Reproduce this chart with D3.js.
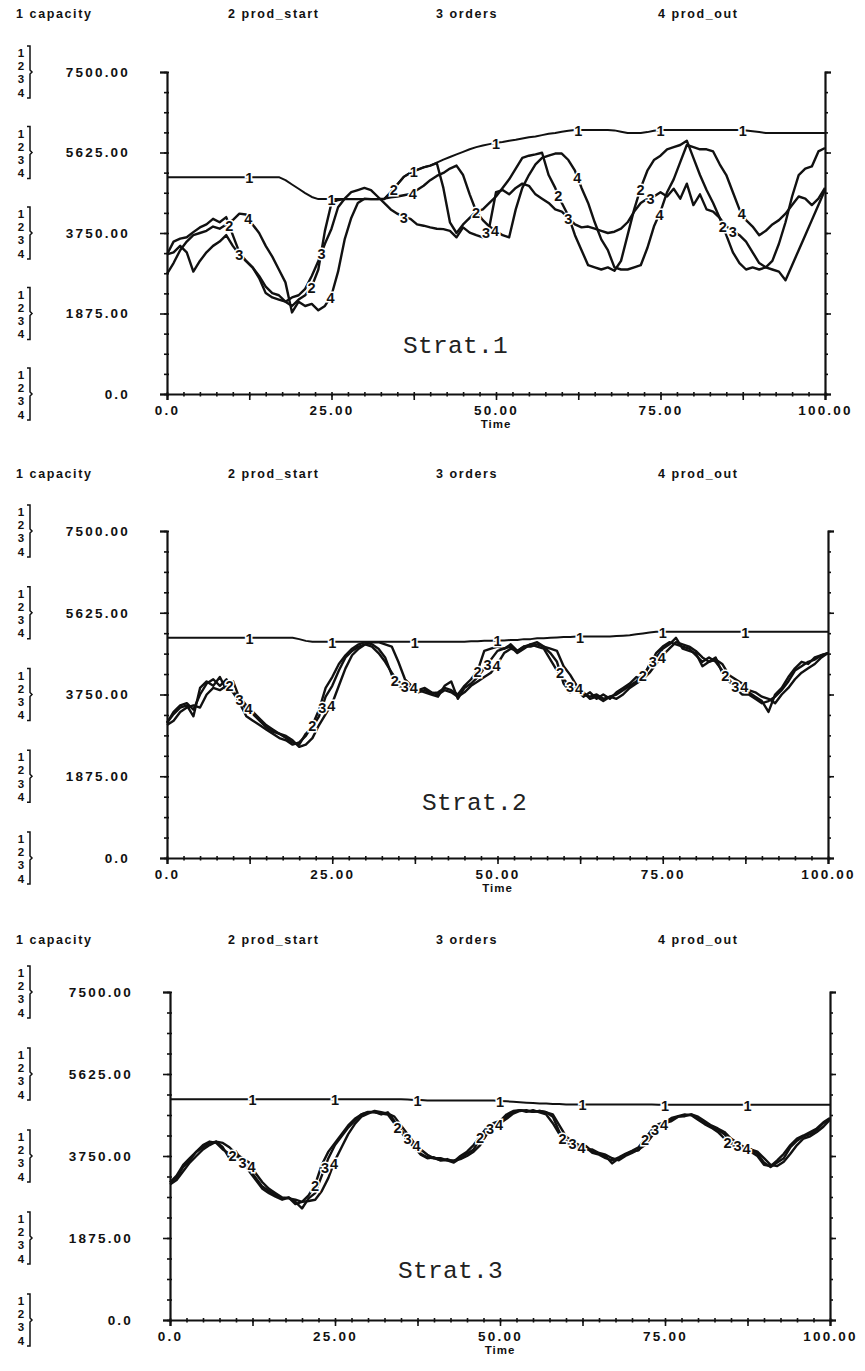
<!DOCTYPE html>
<html><head><meta charset="utf-8">
<script src="https://cdn.jsdelivr.net/npm/d3@7"></script>
<style>
body{margin:0;background:#fff;}
svg{display:block;background:#fff;}
</style></head><body>
<svg id="chart" width="865" height="1371"></svg>
<script>
// ---------------- DATA ----------------
const timeSteps = d3.range(0, 101);               // simulation time 0..100
const seriesNames = ["capacity", "prod_start", "orders", "prod_out"];
const seriesNumbers = ["1", "2", "3", "4"];
const yTickValues = [0, 1875, 3750, 5625, 7500];
const yTickLabels = ["0.0", "1875.00", "3750.00", "5625.00", "7500.00"];
const xTickValues = [0, 12.5, 25, 37.5, 50, 62.5, 75, 87.5, 100];
const xTickLabels = ["0.0", "", "25.00", "", "50.00", "", "75.00", "", "100.00"];
const stratTitles = ["Strat.1", "Strat.2", "Strat.3"];
const labelTimes = [12.5, 25, 37.5, 50, 62.5, 75, 87.5];

// ---- Strat.1 ----
const capacity1 = [
5050,5050,5050,5050,5050,5050,5050,5050,5050,5050,
5050,5050,5050,5050,5050,5050,5050,5050,4980,4880,
4780,4680,4590,4540,4540,4540,4540,4540,4540,4540,
4540,4540,4540,4540,4700,4880,5060,5160,5220,5280,
5320,5390,5460,5520,5580,5640,5700,5750,5790,5820,
5850,5870,5900,5920,5950,5980,6000,6030,6060,6080,
6110,6130,6150,6150,6150,6150,6150,6150,6140,6110,
6080,6080,6080,6100,6130,6150,6150,6150,6150,6150,
6150,6150,6150,6150,6150,6150,6150,6150,6140,6120,
6100,6080,6080,6080,6080,6080,6080,6080,6080,6080,
6080];
const prodStart1 = [
3250,3550,3620,3650,3770,3880,3950,4080,4000,4120,
3700,3300,3100,2950,2700,2350,2250,2200,2150,2050,
2200,2300,2500,2900,3800,4450,4520,4540,4540,4540,
4540,4540,4540,4540,4700,4880,5060,5150,5220,5280,
5320,5380,4800,4000,3750,3950,4100,4250,4300,4450,
4600,4800,5000,5250,5500,5550,5580,5620,5100,4800,
4450,4150,3700,3350,3000,2950,2900,2950,2870,3100,
3700,4300,4800,5200,5450,5550,5700,5750,5800,5900,
5500,5100,4750,4450,4100,3700,3300,3050,2900,2950,
2900,2950,3100,3500,4000,4600,5100,5250,5300,5650,
5730];
const orders1 = [
3250,3300,3450,3300,2850,3100,3300,3450,3550,3700,
3450,3250,3100,2950,2750,2500,2350,2300,2150,2250,
2300,2450,2750,3100,3500,3850,4350,4550,4700,4750,
4800,4750,4600,4450,4300,4200,4120,4080,3950,3920,
3880,3850,3840,3800,3650,3880,3760,3700,3650,3900,
4700,4750,4650,4800,4900,4850,4650,4550,4450,4300,
4250,4100,3950,3880,3900,3850,3800,3750,3780,3850,
4000,4250,4450,4550,4600,4700,4600,4780,4550,4900,
4400,4650,4300,4250,4100,3900,3800,3700,3550,3300,
3050,2950,2900,2850,2650,3000,3350,3700,4050,4400,
4750];
const prodOut1 = [
2800,3050,3350,3550,3700,3750,3800,3900,3850,3950,
4050,4200,4180,3950,3750,3450,3200,2900,2600,1900,
2150,2050,2100,1950,2050,2300,2850,3600,4100,4450,
4550,4540,4540,4550,4580,4600,4630,4660,4750,4850,
4980,5080,5150,5250,5320,5100,4650,4250,4050,3900,
3800,3700,3650,4300,4800,5100,5350,5500,5550,5600,
5600,5450,5200,4800,4450,4000,3600,3350,2950,2900,
2900,2950,3000,3400,3900,4250,4700,5000,5400,5800,
5750,5700,5700,5650,5350,5100,4700,4300,4050,3900,
3700,3800,3950,4050,4200,4400,4600,4550,4400,4550,
4800];

// ---- Strat.2 ----
const capacity2 = [
5050,5050,5050,5050,5050,5050,5050,5050,5050,5050,
5050,5050,5050,5050,5050,5050,5050,5050,5050,5050,
5020,4980,4960,4960,4960,4960,4960,4960,4960,4960,
4960,4960,4960,4960,4960,4960,4960,4960,4960,4960,
4960,4960,4960,4960,4960,4960,4970,4970,4980,4980,
4990,4990,5000,5000,5020,5020,5040,5040,5050,5060,
5070,5070,5080,5080,5080,5080,5080,5080,5090,5100,
5110,5130,5150,5170,5190,5190,5190,5190,5190,5190,
5190,5190,5190,5190,5190,5190,5190,5190,5190,5190,
5190,5190,5190,5190,5190,5190,5190,5190,5190,5190,
5190];
const prodStart2 = [
3100,3350,3500,3550,3400,3750,4000,4100,3950,4100,
3800,3550,3250,3150,3050,2950,2850,2750,2700,2600,
2650,2800,3050,3400,3900,4150,4450,4650,4800,4900,
4950,4900,4800,4600,4200,3950,3850,3900,3800,3850,
3780,3800,3900,3850,3750,3950,4100,4300,4750,4800,
4850,4800,4900,4750,4850,4900,4950,4850,4700,4500,
4000,3800,3900,3750,3700,3750,3650,3700,3750,3850,
3950,4050,4200,4400,4700,4850,4950,4900,4850,4800,
4650,4500,4600,4500,4300,4100,3900,3750,3750,3650,
3550,3600,3700,3850,4050,4300,4400,4500,4550,4650,
4700];
const orders2 = [
3100,3300,3450,3500,3250,3900,4050,3950,4150,3850,
4050,3650,3400,3300,3150,3000,2900,2850,2750,2650,
2600,2850,3000,3250,3700,3950,4300,4600,4750,4850,
4900,4850,4700,4500,4250,4050,3950,3900,3850,3800,
3750,3700,3950,4050,3650,3900,4000,4150,4350,4550,
4750,4800,4850,4700,4800,4900,4850,4800,4550,4300,
4100,3950,3850,3700,3800,3650,3750,3650,3800,3900,
4000,4150,4100,4450,4600,4800,4900,5050,4800,4750,
4700,4400,4500,4600,4250,4050,3950,3850,3800,3700,
3600,3350,3750,3900,4150,4350,4500,4450,4600,4650,
4700];
const prodOut2 = [
3050,3150,3350,3450,3500,3450,3750,3900,3850,3950,
3800,3700,3500,3350,3200,3050,2950,2850,2800,2700,
2550,2600,2750,3050,3300,3550,3950,4350,4650,4800,
4900,4950,4950,4900,4850,4500,4100,3950,3850,3900,
3800,3750,3850,3800,3700,3800,3950,4050,4150,4250,
4450,4700,4800,4750,4850,4850,4900,4850,4800,4750,
4400,4200,3950,3800,3650,3700,3600,3700,3650,3750,
3900,4000,4100,4250,4450,4650,4800,4950,4900,4850,
4750,4600,4500,4550,4450,4200,4100,4000,3850,3800,
3700,3650,3550,3750,3900,4100,4250,4350,4450,4600,
4700];

// ---- Strat.3 ----
const capacity3 = [
5050,5050,5050,5050,5050,5050,5050,5050,5050,5050,
5050,5050,5050,5050,5050,5050,5050,5050,5050,5050,
5050,5050,5050,5050,5050,5050,5050,5050,5050,5050,
5050,5050,5050,5050,5050,5050,5040,5030,5030,5020,
5020,5020,5020,5020,5020,5020,5020,5020,5020,5020,
5010,5000,4990,4980,4970,4960,4950,4950,4940,4940,
4930,4930,4930,4930,4930,4930,4930,4930,4930,4930,
4930,4930,4930,4930,4920,4920,4920,4920,4920,4920,
4920,4920,4920,4920,4920,4920,4920,4920,4920,4920,
4920,4920,4920,4920,4920,4920,4920,4920,4920,4920,
4920];
const prodStart3 = [
3150,3300,3550,3700,3850,4000,4080,4050,3900,3800,
3750,3650,3400,3200,3000,2900,2820,2750,2800,2650,
2700,2850,3100,3550,3850,4050,4250,4450,4600,4700,
4760,4750,4720,4700,4500,4300,4100,3950,3780,3700,
3720,3650,3680,3620,3750,3850,4000,4200,4400,4500,
4550,4700,4780,4800,4760,4800,4750,4700,4500,4250,
4050,4000,3900,3950,3820,3780,3700,3650,3720,3800,
3870,3950,4150,4350,4480,4520,4620,4660,4700,4680,
4580,4480,4400,4300,4150,4000,3950,3920,3850,3750,
3550,3520,3650,3800,4000,4150,4220,4300,4380,4520,
4620];
const orders3 = [
3150,3250,3500,3650,3850,3950,4050,4080,3950,3700,
3850,3600,3450,3250,3050,2950,2850,2780,2800,2700,
2550,2780,2900,3300,3700,4000,4200,4400,4550,4700,
4750,4760,4700,4750,4550,4350,4150,4000,3800,3720,
3700,3650,3650,3600,3700,3800,3900,4150,4350,4450,
4500,4650,4750,4800,4780,4760,4780,4750,4650,4300,
4100,4050,3950,3980,3850,3800,3750,3580,3700,3780,
3850,3880,4100,4300,4450,4500,4600,4650,4680,4700,
4600,4500,4420,4350,4250,4050,4000,3950,3900,3800,
3600,3500,3600,3700,3950,4100,4200,4250,4350,4500,
4600];
const prodOut3 = [
3100,3200,3400,3600,3750,3900,4000,4080,4050,3950,
3800,3700,3600,3350,3150,3000,2900,2800,2780,2750,
2700,2720,2750,2950,3250,3650,3950,4250,4480,4650,
4720,4780,4750,4720,4650,4450,4250,4050,3900,3780,
3700,3700,3650,3650,3680,3750,3850,4000,4250,4400,
4500,4600,4720,4780,4800,4760,4780,4750,4700,4450,
4200,4080,4000,3900,3900,3820,3780,3700,3650,3750,
3820,3900,4000,4200,4400,4500,4550,4650,4660,4700,
4650,4550,4450,4380,4300,4150,4050,3950,3900,3850,
3700,3550,3520,3620,3800,4000,4150,4200,4300,4420,
4580];

const panelSeries = [
  [capacity1, prodStart1, orders1, prodOut1],
  [capacity2, prodStart2, orders2, prodOut2],
  [capacity3, prodStart3, orders3, prodOut3]
];

// ---------------- LAYOUT ----------------
const panels = [
  {left:167, right:825, top:72,  bottom:394,  header:14,  stratX:403, stratY:353},
  {left:167, right:828, top:531, bottom:858,  header:474, stratX:422, stratY:810},
  {left:170, right:830, top:992, bottom:1320, header:940, stratX:398, stratY:1278}
];
const headerX = [16, 228, 436, 658];
const labelDx = [0, -20, -10, -1];
const SANS = "'Liberation Sans', Arial, sans-serif";
const MONO = "'Liberation Mono', 'Courier New', monospace";

const svg = d3.select("#chart");

panels.forEach((p, pi) => {
  const g = svg.append("g");
  const x = d3.scaleLinear().domain([0, 100]).range([p.left, p.right]);
  const y = d3.scaleLinear().domain([0, 7500]).range([p.bottom, p.top]);

  // header legend
  seriesNames.forEach((n, i) => {
    g.append("text").attr("x", headerX[i]).attr("y", p.header + 4)
      .attr("font-family", SANS).attr("font-weight", "bold").attr("font-size", 12.5)
      .attr("letter-spacing", 1.6).attr("fill", "#111")
      .text(seriesNumbers[i] + " " + n);
  });

  // stacked "1 2 3 4 }" markers beside each y tick
  yTickValues.forEach(v => {
    const cy = y(v);
    const st = g.append("g").attr("transform", `translate(0,${cy})`);
    [1, 2, 3, 4].forEach((d, k) => {
      st.append("text").attr("x", 21).attr("y", -19 + k * 13.2)
        .attr("text-anchor", "middle").attr("dominant-baseline", "central")
        .attr("font-family", SANS).attr("font-weight", "bold").attr("font-size", 11.5)
        .attr("fill", "#111").text(d);
    });
    st.append("path")
      .attr("d", "M27,-26 H30 V-2 L32,0 L30,2 V26 H27")
      .attr("fill", "none").attr("stroke", "#111").attr("stroke-width", 1.5);
  });

  // left axis: major ticks + labels
  g.append("g").attr("transform", `translate(${p.left},0)`)
    .call(d3.axisLeft(y).tickValues(yTickValues).tickSize(7).tickPadding(30)
      .tickFormat((d, i) => yTickLabels[i]));
  // left axis minor ticks (crossing)
  const minorY = d3.range(0, 7500.1, 468.75);
  g.append("g").attr("transform", `translate(${p.left},0)`)
    .call(d3.axisLeft(y).tickValues(minorY).tickSize(3).tickFormat(""))
    .call(a => a.select(".domain").remove());
  g.append("g").attr("transform", `translate(${p.left},0)`)
    .call(d3.axisRight(y).tickValues(minorY).tickSize(2).tickFormat(""))
    .call(a => a.select(".domain").remove());

  // right axis
  g.append("g").attr("transform", `translate(${p.right},0)`)
    .call(d3.axisRight(y).tickValues(yTickValues).tickSize(6).tickFormat(""));
  g.append("g").attr("transform", `translate(${p.right},0)`)
    .call(d3.axisRight(y).tickValues(minorY).tickSize(3).tickFormat(""))
    .call(a => a.select(".domain").remove());

  // bottom axis
  g.append("g").attr("transform", `translate(0,${p.bottom})`)
    .call(d3.axisBottom(x).tickValues(xTickValues).tickSize(6).tickPadding(5)
      .tickFormat((d, i) => xTickLabels[i]));
  const minorX = d3.range(0, 100.1, 2.5);
  g.append("g").attr("transform", `translate(0,${p.bottom})`)
    .call(d3.axisBottom(x).tickValues(minorX).tickSize(2.5).tickFormat(""))
    .call(a => a.select(".domain").remove());
  g.append("g").attr("transform", `translate(0,${p.bottom})`)
    .call(d3.axisTop(x).tickValues(minorX).tickSize(2).tickFormat(""))
    .call(a => a.select(".domain").remove());

  g.selectAll(".domain").attr("stroke", "#111").attr("stroke-width", 2.2);
  g.selectAll(".tick line").attr("stroke", "#111").attr("stroke-width", 1.6);
  g.selectAll(".tick text")
    .attr("font-family", SANS).attr("font-weight", "bold").attr("font-size", 13.5)
    .attr("letter-spacing", 2.2).attr("fill", "#111");

  // Time label
  g.append("text").attr("x", x(50)).attr("y", p.bottom + 34)
    .attr("text-anchor", "middle").attr("font-family", SANS).attr("font-weight", "bold")
    .attr("font-size", 11.5).attr("letter-spacing", 1).attr("fill", "#111").text("Time");

  // Strat title
  g.append("text").attr("x", p.stratX).attr("y", p.stratY)
    .attr("font-family", MONO).attr("font-size", 24.5).attr("fill", "#222")
    .attr("letter-spacing", 0.3).text(stratTitles[pi]);

  // lines
  const line = d3.line().x((d, i) => x(timeSteps[i])).y(d => y(d));
  panelSeries[pi].forEach((vals, si) => {
    g.append("path").datum(vals).attr("d", line)
      .attr("fill", "none").attr("stroke", "#111")
      .attr("stroke-width", si === 0 ? 2 : 2.4)
      .attr("stroke-linejoin", "round");
  });

  // numbered series labels along the curves
  const valueAt = (vals, t) => {
    const i0 = Math.max(0, Math.min(99, Math.floor(t)));
    const f = t - i0;
    return vals[i0] * (1 - f) + vals[i0 + 1] * f;
  };
  labelTimes.forEach(T => {
    panelSeries[pi].forEach((vals, si) => {
      const px = x(T) + labelDx[si];
      const t = x.invert(px);
      const v = valueAt(vals, t);
      g.append("text").attr("x", px).attr("y", y(v) + 1)
        .attr("text-anchor", "middle").attr("dominant-baseline", "central")
        .attr("font-family", SANS).attr("font-weight", "bold").attr("font-size", 14.5)
        .attr("fill", "#111").attr("stroke", "#fff").attr("stroke-width", 3)
        .attr("paint-order", "stroke").text(seriesNumbers[si]);
    });
  });
});
</script>
</body></html>
